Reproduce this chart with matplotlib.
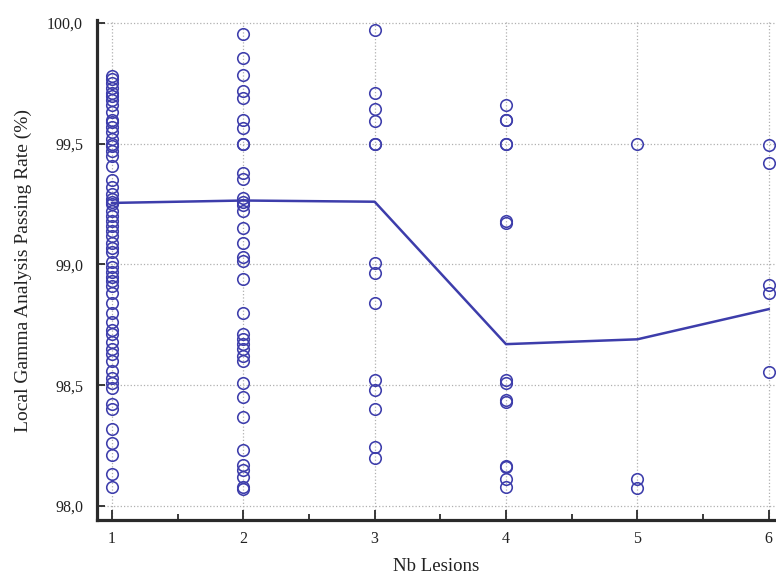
import matplotlib
matplotlib.use("Agg")
import matplotlib.pyplot as plt
from matplotlib.ticker import FuncFormatter, MultipleLocator

# ---- data ----
lesions_1 = [99.78, 99.77, 99.75, 99.73, 99.71, 99.70, 99.68, 99.66, 99.63, 99.60,
             99.59, 99.57, 99.55, 99.52, 99.50, 99.49, 99.47, 99.45, 99.41, 99.35,
             99.32, 99.29, 99.27, 99.26, 99.25, 99.22, 99.20, 99.18, 99.16, 99.14,
             99.12, 99.09, 99.07, 99.05, 99.01, 98.99, 98.97, 98.95, 98.93, 98.91,
             98.88, 98.84, 98.80, 98.76, 98.73, 98.71, 98.68, 98.65, 98.63, 98.60,
             98.56, 98.53, 98.51, 98.49, 98.42, 98.40, 98.32, 98.26, 98.21, 98.13,
             98.08]
lesions_2 = [99.955, 99.855, 99.785, 99.72, 99.69, 99.60, 99.565, 99.50, 99.50, 99.38,
             99.355, 99.275, 99.26, 99.245, 99.22, 99.15, 99.09, 99.03, 99.015, 98.94,
             98.80, 98.71, 98.69, 98.67, 98.65, 98.62, 98.60, 98.51, 98.45, 98.37,
             98.23, 98.17, 98.15, 98.12, 98.08, 98.07]
lesions_3 = [99.97, 99.71, 99.645, 99.595, 99.50, 99.50, 99.006, 98.965, 98.84,
             98.52, 98.48, 98.40, 98.245, 98.20]
lesions_4 = [99.66, 99.60, 99.60, 99.50, 99.50, 99.18, 99.17, 98.52, 98.51, 98.44,
             98.43, 98.165, 98.16, 98.11, 98.08]
lesions_5 = [99.50, 98.11, 98.076]
lesions_6 = [99.495, 99.42, 98.915, 98.88, 98.556]
groups = [1, 2, 3, 4, 5, 6]
series = [lesions_1, lesions_2, lesions_3, lesions_4, lesions_5, lesions_6]
trend = [99.255, 99.265, 99.26, 98.67, 98.69, 98.815]
x_label = "Nb Lesions"
y_label = "Local Gamma Analysis Passing Rate (%)"

# ---- drawing ----
blue = "#3d3dab"
fig = plt.figure(figsize=(7.76, 5.77), dpi=100)
ax = fig.add_axes([0.125, 0.099, 0.874, 0.866])

xs, ys = [], []
for g, vals in zip(groups, series):
    xs.extend([g] * len(vals))
    ys.extend(vals)
ax.plot(groups, trend, color=blue, lw=1.8, zorder=3)
ax.plot(xs, ys, linestyle="none", marker="o", markersize=8.3,
        markerfacecolor="none", markeredgecolor=blue, markeredgewidth=1.15, zorder=4)

ax.set_xlim(0.886, 6.05)
ax.set_ylim(97.942, 100.012)
ax.xaxis.set_major_locator(MultipleLocator(1))
ax.xaxis.set_minor_locator(MultipleLocator(0.5))
ax.yaxis.set_major_locator(MultipleLocator(0.5))
ax.yaxis.set_major_formatter(FuncFormatter(lambda v, p: f"{v:.1f}".replace(".", ",")))

for s in ["top", "right"]:
    ax.spines[s].set_visible(False)
for s in ["left", "bottom"]:
    ax.spines[s].set_linewidth(2.3)
    ax.spines[s].set_color("#2a2a2a")

ax.grid(True, which="major", linestyle=":", color="#b0b0b0", linewidth=0.9)
ax.set_axisbelow(True)

serif = "Liberation Serif"
ax.tick_params(axis="both", which="major", direction="in", length=6, width=1.3,
               color="#2a2a2a", labelsize=11.5, labelcolor="#222222")
ax.tick_params(axis="x", which="major", length=7, pad=8)
ax.tick_params(axis="x", which="minor", direction="in", length=4, width=1.3, color="#2a2a2a")
ax.tick_params(axis="y", which="major", pad=10)
for lab in ax.get_xticklabels() + ax.get_yticklabels():
    lab.set_fontfamily(serif)

ax.set_xlabel(x_label, fontsize=13.5, family=serif, color="#222222", labelpad=8)
ax.set_ylabel(y_label, fontsize=14, family=serif, color="#222222", labelpad=11)

fig.savefig("out.png", dpi=100)
